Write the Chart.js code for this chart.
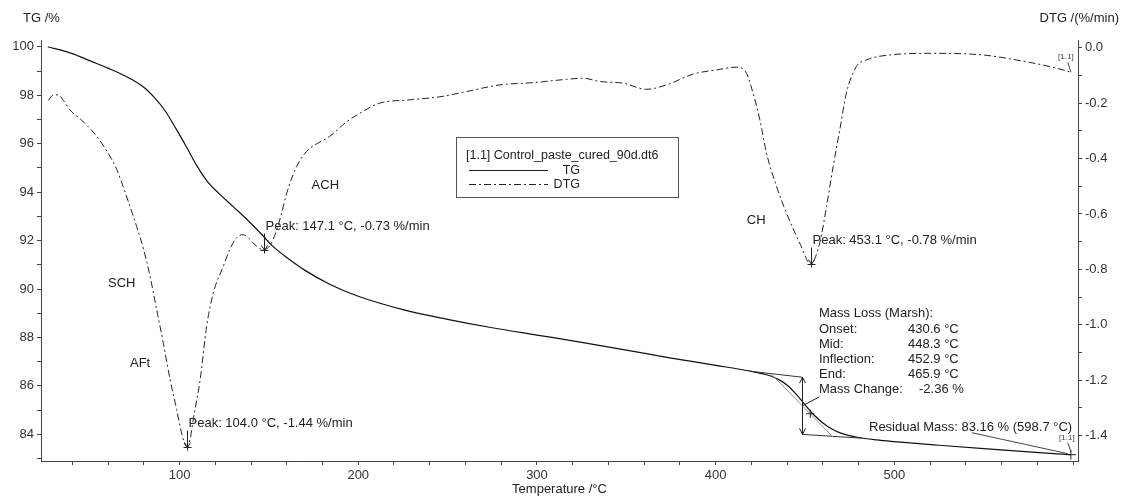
<!DOCTYPE html>
<html>
<head>
<meta charset="utf-8">
<script src="https://cdn.jsdelivr.net/npm/chart.js@4.4.0/dist/chart.umd.min.js"></script>
<style>
  html, body { margin: 0; padding: 0; background: #fff; }
  #wrap { width: 1126px; height: 503px; }
</style>
</head>
<body>
<div id="wrap"><canvas id="tga" width="1126" height="503"></canvas></div>
<script>
// TG curve: temperature (°C) and mass (%)
const tgTemp = [26.3, 40, 50, 60, 70, 80, 86, 92, 98, 104, 110, 116, 122, 130, 138, 146, 152, 160, 170, 184,
  200, 225, 250, 275, 300, 325, 350, 375, 400, 420, 430, 435, 440, 445, 450, 455, 460, 465, 470, 480, 490,
  500, 525, 550, 575, 598.7];
const tgMass = [100.0, 99.72, 99.42, 99.12, 98.78, 98.33, 97.9, 97.35, 96.62, 95.85, 95.05, 94.4, 93.95, 93.4,
  92.85, 92.25, 91.78, 91.3, 90.78, 90.2, 89.7, 89.15, 88.75, 88.4, 88.1, 87.8, 87.48, 87.15, 86.85, 86.6,
  86.43, 86.27, 86.03, 85.66, 85.22, 84.8, 84.47, 84.22, 84.05, 83.87, 83.77, 83.7, 83.55, 83.41, 83.28, 83.16];

// DTG curve: temperature (°C) and rate (%/min)
const dtgTemp = [26.6, 29, 32, 35, 38.8, 45, 53.7, 60, 64.9, 70, 76, 80, 83.5, 87.2, 90.9, 94.7, 98.4, 101.5,
  104, 106, 107.7, 111.5, 115.2, 118.9, 124.5, 128, 132, 135.7, 139, 143.2, 147.1, 151, 154.4, 157, 160,
  165.5, 171, 176, 184, 193, 201, 212, 229, 245.7, 260.6, 279.3, 297.9, 316.6, 325.8, 335.2, 348.2, 361.3,
  372.5, 387.4, 400.4, 411.6, 417.2, 420.9, 424.7, 428.4, 434, 439.6, 447, 453.1, 458.2, 462, 465.7, 469.4,
  473.1, 478.7, 484.3, 497.4, 521.6, 549.5, 568.2, 587, 598.7];
const dtgRate = [-0.19, -0.172, -0.17, -0.19, -0.225, -0.26, -0.32, -0.38, -0.44, -0.53, -0.645, -0.73, -0.825,
  -0.945, -1.065, -1.197, -1.306, -1.4, -1.44, -1.41, -1.342, -1.2, -1.005, -0.885, -0.789, -0.73, -0.685,
  -0.675, -0.69, -0.717, -0.73, -0.71, -0.657, -0.6, -0.525, -0.429, -0.375, -0.35, -0.32, -0.27, -0.236,
  -0.2, -0.188, -0.177, -0.158, -0.134, -0.126, -0.114, -0.11, -0.122, -0.128, -0.15, -0.134, -0.095, -0.08,
  -0.07, -0.092, -0.164, -0.26, -0.38, -0.5, -0.597, -0.705, -0.78, -0.705, -0.573, -0.429, -0.297, -0.164,
  -0.068, -0.044, -0.026, -0.02, -0.026, -0.044, -0.068, -0.088];

// DTG peaks
const peakTemp = [104.0, 147.1, 453.1];
const peakRate = [-1.44, -0.73, -0.78];

// phase names
const phaseNames = ['SCH', 'AFt', 'ACH', 'CH'];

// mass loss step (Marsh)
const stepNames = ['Onset:', 'Mid:', 'Inflection:', 'End:'];
const stepTemps = [430.6, 448.3, 452.9, 465.9];
const massChange = -2.36;
const stepTop = [[420, 86.6], [448.3, 86.36]];
const stepBottom = [[448.3, 84.0], [482, 83.84]];
const stepTangent = [[431, 86.5], [466, 83.86]];
const inflectionMass = 84.85;
const residualMass = 83.16;
const residualTemp = 598.7;

const FONT = '"Liberation Sans", Arial, sans-serif';
const INK = '#222';
Chart.defaults.font.family = FONT;
Chart.defaults.font.size = 13;
Chart.defaults.color = '#333';

function ticksFrom(a, b, step) {
  const out = [];
  for (let k = Math.ceil(a / step - 1e-9); k * step <= b + 1e-9; k++) out.push({ value: +(k * step).toFixed(4) });
  return out;
}

const notes = {
  id: 'notes',
  afterDraw(chart) {
    const { ctx, scales: { x, y, y1 } } = chart;
    const px = t => x.getPixelForValue(t);
    const pm = m => y.getPixelForValue(m);
    const pr = r => y1.getPixelForValue(r);
    const line = (a, b, c, d) => { ctx.beginPath(); ctx.moveTo(a, b); ctx.lineTo(c, d); ctx.stroke(); };
    const text = (s, tx, ty, align) => { ctx.textAlign = align || 'left'; ctx.fillText(s, tx, ty); };

    ctx.save();
    ctx.font = '13px ' + FONT;
    ctx.fillStyle = INK;
    ctx.strokeStyle = INK;
    ctx.lineWidth = 1;
    ctx.textBaseline = 'middle';

    // axis titles
    text('TG /%', 23, 18);
    text('DTG /(%/min)', 1119, 18, 'right');

    // peak markers
    peakTemp.forEach((t, i) => {
      const X = Math.round(px(t)) + 0.5, Y = Math.round(pr(peakRate[i])) + 0.5;
      line(X, Y - 17, X, Y + 3);
      line(X - 3, Y - 5, X, Y);
      line(X + 3, Y - 5, X, Y);
      line(X - 4, Y, X + 4, Y);
      text(`Peak: ${t.toFixed(1)} °C, ${peakRate[i].toFixed(2)} %/min`, X + 1, Y - 24);
    });

    // phase names, anchored on TG scale
    const phaseAt = [[60, 90.22], [72.3, 86.93], [173.9, 94.26], [417.4, 92.82]];
    phaseNames.forEach((n, i) => text(n, px(phaseAt[i][0]), pm(phaseAt[i][1])));

    // legend box
    ctx.strokeStyle = '#555';
    ctx.strokeRect(456.5, 137.5, 222, 60);
    ctx.strokeStyle = INK;
    ctx.font = '12.5px ' + FONT;
    text('[1.1] Control_paste_cured_90d.dt6', 466, 156);
    line(469, 170.5, 548, 170.5);
    text('TG', 580, 171, 'right');
    ctx.setLineDash([7, 3, 2, 3]);
    line(469, 184.5, 548, 184.5);
    ctx.setLineDash([]);
    text('DTG', 580, 185, 'right');
    ctx.font = '13px ' + FONT;

    // mass loss construction
    ctx.strokeStyle = '#333';
    line(px(stepTop[0][0]), pm(stepTop[0][1]), px(stepTop[1][0]), pm(stepTop[1][1]));
    line(px(stepBottom[0][0]), pm(stepBottom[0][1]), px(stepBottom[1][0]), pm(stepBottom[1][1]));
    ctx.strokeStyle = '#999';
    line(px(stepTangent[0][0]), pm(stepTangent[0][1]), px(stepTangent[1][0]), pm(stepTangent[1][1]));
    ctx.strokeStyle = INK;
    const mx = Math.round(px(stepTemps[1])) + 0.5;
    const yTop = pm(stepTop[1][1]), yBot = pm(stepBottom[0][1]);
    line(mx, yTop, mx, yBot);
    line(mx - 3, yTop + 6, mx, yTop); line(mx + 3, yTop + 6, mx, yTop);
    line(mx - 3, yBot - 6, mx, yBot); line(mx + 3, yBot - 6, mx, yBot);
    const midY = (yTop + yBot) / 2;
    line(mx, midY, mx + 17, midY - 9);
    const ix = px(stepTemps[2]), iy = pm(inflectionMass);
    line(ix - 4, iy, ix + 4, iy); line(ix, iy - 4, ix, iy + 4);

    text('Mass Loss (Marsh):', 819, 313);
    stepNames.forEach((n, i) => {
      text(n, 819, 329 + 15 * i);
      text(`${stepTemps[i].toFixed(1)} °C`, 908, 329 + 15 * i);
    });
    text('Mass Change:', 819, 389);
    text(`${massChange.toFixed(2)} %`, 919, 389);

    // residual mass
    const rx = px(residualTemp), ry = pm(residualMass);
    line(rx - 5, ry, rx + 5, ry); line(rx, ry - 5, rx, ry + 5);
    ctx.strokeStyle = '#444';
    line(rx - 99, ry - 22, rx - 3, ry - 1);
    text(`Residual Mass: ${residualMass.toFixed(2)} % (${residualTemp.toFixed(1)} °C)`, 869, 427);

    // curve tags
    ctx.font = '8px ' + FONT;
    ctx.fillStyle = '#444';
    text('[1.1]', rx - 4, ry - 17, 'center');
    line(rx - 3, ry - 12, rx, ry - 3);
    const dx = px(dtgTemp[dtgTemp.length - 1]), dy = pr(dtgRate[dtgRate.length - 1]);
    text('[1.1]', dx - 5, dy - 15, 'center');
    line(dx - 3, dy - 10, dx, dy);
    ctx.restore();
  }
};

const axisCommon = {
  grid: { drawOnChartArea: false, drawTicks: true, tickLength: 4, color: '#444' },
  border: { color: '#444', width: 1 },
};

new Chart(document.getElementById('tga'), {
  type: 'line',
  data: {
    datasets: [
      {
        label: 'TG',
        data: tgTemp.map((t, i) => ({ x: t, y: tgMass[i] })),
        yAxisID: 'y',
        borderColor: '#111',
        borderWidth: 1.2,
        pointRadius: 0,
        cubicInterpolationMode: 'monotone'
      },
      {
        label: 'DTG',
        data: dtgTemp.map((t, i) => ({ x: t, y: dtgRate[i] })),
        yAxisID: 'y1',
        borderColor: '#222',
        borderWidth: 1,
        borderDash: [7, 3, 2, 3],
        pointRadius: 0,
        cubicInterpolationMode: 'monotone'
      }
    ]
  },
  options: {
    responsive: false,
    animation: false,
    devicePixelRatio: 1,
    layout: { padding: { top: 40, left: 0, right: 0, bottom: 0 } },
    plugins: { legend: { display: false }, tooltip: { enabled: false } },
    scales: {
      x: {
        ...axisCommon,
        type: 'linear',
        position: 'bottom',
        min: 22.5,
        max: 602.7,
        afterBuildTicks: s => { s.ticks = ticksFrom(22.5, 602.7, 20); },
        afterFit: s => { s.height = 42; },
        ticks: {
          autoSkip: false, maxRotation: 0, padding: 3,
          callback: v => (Math.round(v) % 100 === 0 && v < 600 ? String(Math.round(v)) : '')
        },
        title: { display: true, text: 'Temperature /°C', color: INK, font: { size: 13 }, padding: { top: 0, bottom: 6 } }
      },
      y: {
        ...axisCommon,
        position: 'left',
        min: 82.9,
        max: 100.28,
        afterBuildTicks: s => { s.ticks = ticksFrom(82.9, 100.28, 1); },
        afterFit: s => { s.width = 41; },
        ticks: { autoSkip: false, padding: 3, callback: v => (Math.round(v) % 2 === 0 ? String(Math.round(v)) : '') }
      },
      y1: {
        ...axisCommon,
        position: 'right',
        min: -1.492,
        max: 0.028,
        afterBuildTicks: s => { s.ticks = ticksFrom(-1.492, 0.028, 0.1); },
        afterFit: s => { s.width = 48; },
        ticks: { autoSkip: false, padding: 3, callback: v => (Math.round(v * 10) % 2 === 0 ? v.toFixed(1) : '') }
      }
    }
  },
  plugins: [notes]
});
</script>
</body>
</html>
